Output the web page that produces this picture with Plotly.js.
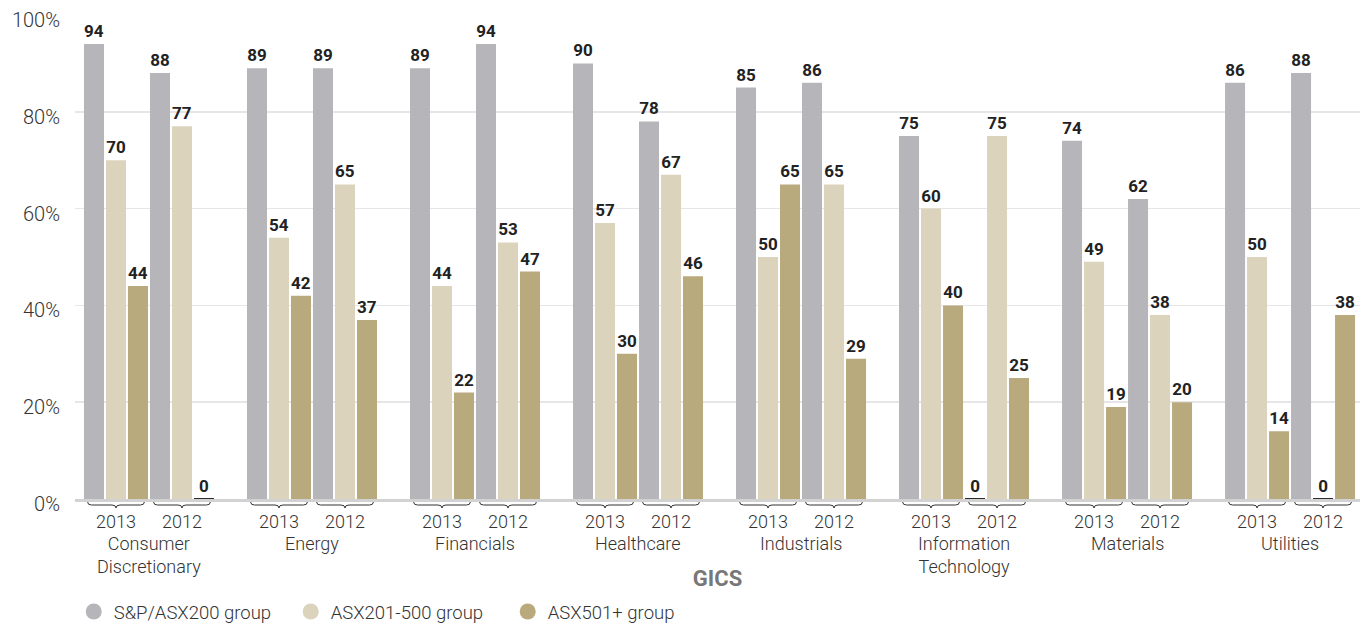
<!DOCTYPE html>
<html><head><meta charset="utf-8">
<script src="https://cdn.plot.ly/plotly-3.0.1.min.js"></script>
<style>html,body{margin:0;padding:0;background:#fff}#chart{width:1369px;height:623px}</style>
</head><body><div id="chart"></div>
<script>
const categories = ["Consumer<br>Discretionary","Energy","Financials","Healthcare","Industrials","Information<br>Technology","Materials","Utilities"];
const years = ["2013","2012"];
const seriesNames = ["S&P/ASX200 group","ASX201-500 group","ASX501+ group"];
const sp200_2013 = [94,89,89,90,85,75,74,86];
const sp200_2012 = [88,89,94,78,86,0,62,88];
const asx201_2013 = [70,54,44,57,50,60,49,50];
const asx201_2012 = [77,65,53,67,65,75,38,0];
const asx501_2013 = [44,42,22,30,65,40,19,14];
const asx501_2012 = [0,37,47,46,29,25,20,38];
const yTicks = [0,20,40,60,80,100];
const colors = ["#b6b5ba","#dbd3bb","#b9aa7e"];

const CAT_STEP = 2.47;
const xs = [], tickText = [];
categories.forEach((c,i)=>years.forEach((y,j)=>{ xs.push(i*CAT_STEP+j); tickText.push(y); }));
function interleave(a,b){ const o=[]; a.forEach((v,i)=>o.push(v,b[i])); return o; }
const seriesVals = [interleave(sp200_2013,sp200_2012), interleave(asx201_2013,asx201_2012), interleave(asx501_2013,asx501_2012)];

const FONT = "Roboto, 'Liberation Sans', Arial, sans-serif";
const traces = seriesVals.map((vals,k)=>({
  type:'bar', name:seriesNames[k], x:xs, y:vals, showlegend:false,
  marker:{color:colors[k], line:{color:'#2b2b2b', width:vals.map(v=>v===0?2:0)}},
  text:vals.map(String), texttemplate:'%{text}', textposition:'outside', constraintext:'none', cliponaxis:false,
  textfont:{family:FONT, size:17, weight:700, color:'#222'},
  hoverinfo:'skip'
}));
seriesNames.forEach((n,k)=>traces.push({
  type:'scatter', mode:'markers', name:n, x:[null], y:[null],
  marker:{symbol:'circle', size:16, color:colors[k]}, hoverinfo:'skip'
}));

const TOP = 15, BOTTOM = 124, H = 623;
const PH = H - TOP - BOTTOM, BASE = H - BOTTOM;
const py = px => (BASE-px)/PH;
const shapes = xs.map(c=>{
  const hw = 0.43, e = 0.06, t=py(502), m=py(505), b=py(508);
  return {type:'path', xref:'x', yref:'paper', layer:'above',
    path:`M${c-hw},${t} Q${c-hw},${m} ${c-hw+e},${m} L${c-e},${m} Q${c},${m} ${c},${b} Q${c},${m} ${c+e},${m} L${c+hw-e},${m} Q${c+hw},${m} ${c+hw},${t}`,
    line:{color:'#333', width:1}};
});
const annotations = categories.map((c,i)=>({
  x:i*CAT_STEP+0.5, xref:'x', y:py(531), yref:'paper', yanchor:'top', xanchor:'center',
  text:c, showarrow:false, font:{family:FONT, size:18, weight:300, color:'#333'}
}));

const layout = {
  width:1369, height:H, margin:{l:75, r:9, t:TOP, b:BOTTOM, autoexpand:false},
  paper_bgcolor:'#fff', plot_bgcolor:'#fff',
  barmode:'group', bargap:0, bargroupgap:0.09,
  font:{family:FONT, color:'#333'},
  xaxis:{range:[-0.621,18.85], tickmode:'array', tickvals:xs, ticktext:tickText, automargin:false,
    ticks:'outside', ticklen:4, tickcolor:'rgba(0,0,0,0)',
    tickfont:{family:FONT, size:18, weight:300, color:'#333'},
    showgrid:false, zeroline:false, showline:true, linecolor:'#d2d2d2', linewidth:3, layer:'below traces',
    title:{text:'<b>GICS</b>', font:{family:FONT, size:22, color:'#777'}, standoff:41}},
  yaxis:{range:[0,100], tickmode:'array', tickvals:yTicks, ticktext:yTicks.map(v=>v+'%'), automargin:false,
    ticks:'outside', ticklen:10, tickcolor:'rgba(0,0,0,0)', ticklabelshift:5, ticklabeloverflow:'allow',
    tickfont:{family:FONT, size:20, weight:300, color:'#333'},
    gridcolor:'#e6e6e6', gridwidth:1.5, zeroline:false, showline:false},
  legend:{orientation:'h', x:-0.001, xanchor:'left', y:py(612), yanchor:'middle',
    font:{family:FONT, size:18.5, weight:300, color:'#333'}, entrywidth:172, entrywidthmode:'pixels'},
  shapes:shapes, annotations:annotations, showlegend:true
};
Plotly.newPlot('chart', traces, layout, {displayModeBar:false, staticPlot:true});
</script></body></html>
